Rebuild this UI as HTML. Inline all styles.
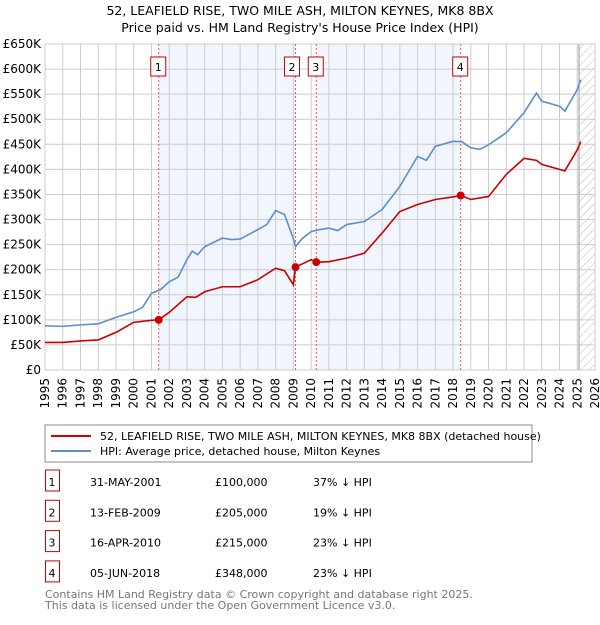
<!DOCTYPE html>
<html><head><meta charset="utf-8"><style>
body{margin:0;background:#fff;font-family:"Liberation Sans","DejaVu Sans",sans-serif;}
svg text{font-family:"DejaVu Sans","Liberation Sans",sans-serif;}
</style></head><body>
<svg id="c" width="600" height="620" xmlns="http://www.w3.org/2000/svg">
<defs><pattern id="hatch" width="6" height="6" patternUnits="userSpaceOnUse" patternTransform="rotate(45)"><line x1="0" y1="0" x2="0" y2="6" stroke="#bbb" stroke-width="1"/></pattern></defs>
<text x="300" y="15" text-anchor="middle" font-size="12.5">52, LEAFIELD RISE, TWO MILE ASH, MILTON KEYNES, MK8 8BX</text>
<text x="300" y="32" text-anchor="middle" font-size="12.5">Price paid vs. HM Land Registry's House Price Index (HPI)</text>
<g id="plot"></g>
<rect x="45" y="425" width="487" height="37" fill="#fff" stroke="#888"/>
<line x1="51" y1="436" x2="91" y2="436" stroke="#cc0000" stroke-width="2"/>
<text x="100" y="440" font-size="11">52, LEAFIELD RISE, TWO MILE ASH, MILTON KEYNES, MK8 8BX (detached house)</text>
<line x1="51" y1="451" x2="91" y2="451" stroke="#5b8fd0" stroke-width="2"/>
<text x="100" y="455" font-size="11">HPI: Average price, detached house, Milton Keynes</text>
<g id="table"></g>
<text x="45" y="598" font-size="11" fill="#777">Contains HM Land Registry data © Crown copyright and database right 2025.</text>
<text x="45" y="609" font-size="11" fill="#777">This data is licensed under the Open Government Licence v3.0.</text>
</svg>
<script>
const yTicks=[0,50,100,150,200,250,300,350,400,450,500,550,600,650];
const yTickLabels=["£0","£50K","£100K","£150K","£200K","£250K","£300K","£350K","£400K","£450K","£500K","£550K","£600K","£650K"];
const years=[1995,1996,1997,1998,1999,2000,2001,2002,2003,2004,2005,2006,2007,2008,2009,2010,2011,2012,2013,2014,2015,2016,2017,2018,2019,2020,2021,2022,2023,2024,2025,2026];
const hpiT=[1995,1996,1997,1998,1999,2000,2000.5,2001,2001.5,2002,2002.5,2003,2003.3,2003.6,2004,2005,2005.5,2006,2007,2007.5,2008,2008.5,2009,2009.12,2009.5,2010,2010.5,2011,2011.5,2012,2013,2014,2015,2016,2016.5,2017,2018,2018.5,2019,2019.5,2020,2021,2022,2022.7,2023,2024,2024.3,2025,2025.2];
const hpiV=[88,87,90,92,105,116,125,153,160,176,185,220,237,230,246,263,260,261,280,290,318,310,262,246,262,276,280,283,278,290,296,320,366,426,418,446,456,455,443,440,449,473,513,552,536,526,516,559,579];
const redT=[1995,1996,1997,1998,1999,2000,2001,2001.41,2002,2003,2003.5,2004,2005,2006,2007,2008,2008.5,2009.0,2009.12,2010,2010.29,2011,2012,2013,2014,2015,2016,2017,2018,2018.43,2019,2020,2021,2022,2022.7,2023,2024,2024.3,2025,2025.2];
const redV=[55,55,58,60,75,95,99,100,115,146,145,156,166,166,180,203,198,170,205,220,215,216,223,233,273,316,330,340,345,348,340,346,390,422,418,410,400,397,439,455];
const saleT=[2001.41,2009.12,2010.29,2018.43];
const saleV=[100,205,215,348];
const saleLabels=["1","2","3","4"];
const saleDates=["31-MAY-2001","13-FEB-2009","16-APR-2010","05-JUN-2018"];
const salePrices=["£100,000","£205,000","£215,000","£348,000"];
const saleHpi=["37% ↓ HPI","19% ↓ HPI","23% ↓ HPI","23% ↓ HPI"];
const X=t=>45+(t-1995)*(550/31), Y=v=>370-v*(326/650);
const NS="http://www.w3.org/2000/svg";
const g=document.getElementById('plot');
function mk(p,tag,a){const e=document.createElementNS(NS,tag);for(const k in a)e.setAttribute(k,a[k]);p.appendChild(e);return e;}
for(const [a,b] of [[0,1],[2,3]]){const r=mk(g,'rect',{x:X(saleT[a]),y:44,width:X(saleT[b])-X(saleT[a]),height:326,fill:'#eef3fc',opacity:0.8});

}
const h=mk(g,'rect',{x:X(2025.1),y:44,width:595-X(2025.1),height:326,fill:'url(#hatch)'});


yTicks.forEach((v,i)=>{const l=mk(g,'line',{x1:45,x2:595,y1:Y(v),y2:Y(v),stroke:'#ccc'});


const t=mk(g,'text',{x:41,y:Y(v)+4,'text-anchor':'end','font-size':12});t.textContent=yTickLabels[i];

});
years.forEach(y=>{const l=mk(g,'line',{x1:X(y),x2:X(y),y1:44,y2:370,stroke:'#ccc'});


const gx=X(y)+4;
const gg=mk(g,'g',{transform:'rotate(-90 '+gx+' 378)'});
const t=mk(gg,'text',{x:gx,y:378,'font-size':12,'text-anchor':'end'});t.textContent=y;

});
mk(g,'rect',{x:45,y:44,width:550,height:326,fill:'none',stroke:'#ccc'});
mk(g,'line',{x1:X(2025.1),x2:X(2025.1),y1:44,y2:370,stroke:'#999'});
saleT.forEach((t,i)=>{const l=mk(g,'line',{x1:X(t),x2:X(t),y1:44,y2:370,stroke:'#e55','stroke-dasharray':'2,2'});


const bx=mk(g,'rect',{x:X(t)-8-(i==1?3:0),y:57,width:15,height:19,fill:'#fff',stroke:'#c00'});


const tx=mk(g,'text',{x:X(t)-0.5-(i==1?3:0),y:71,'text-anchor':'middle','font-size':11});tx.textContent=saleLabels[i];

});
const hp=mk(g,'polyline',{points:hpiT.map((t,i)=>X(t)+','+Y(hpiV[i])).join(' '),fill:'none',stroke:'#5b8fd0','stroke-width':1.6});


const rp=mk(g,'polyline',{points:redT.map((t,i)=>X(t)+','+Y(redV[i])).join(' '),fill:'none',stroke:'#cc0000','stroke-width':1.6});


saleT.forEach((t,i)=>{const c=mk(g,'circle',{cx:X(t),cy:Y(saleV[i]),r:4,fill:'#cc0000'});

});
const tb=document.getElementById('table');
saleT.forEach((t,i)=>{const y=482+i*30.3;
const b=mk(tb,'rect',{x:45.5,y:y-12,width:14,height:21,fill:'#fff',stroke:'#c00'});


const cols=[[52,saleLabels[i],'middle'],[90,saleDates[i],'start'],[215,salePrices[i],'start'],[313,saleHpi[i],'start']];
cols.forEach(([x,s,a])=>{const e=mk(tb,'text',{x:x,y:y+4,'font-size':11,'text-anchor':a});e.textContent=s;

});});
</script>
</body></html>
